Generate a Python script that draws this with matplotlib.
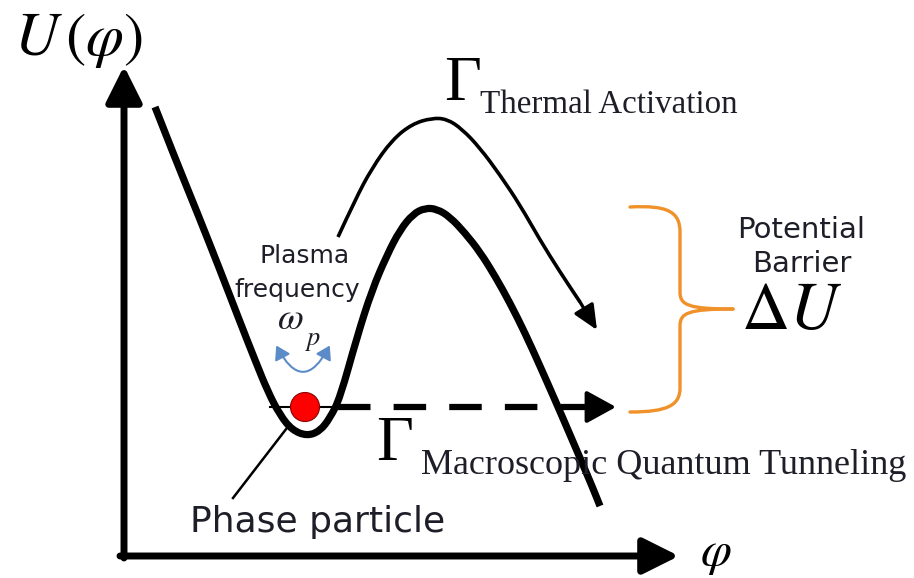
import matplotlib.pyplot as plt
from matplotlib.path import Path
from matplotlib.patches import PathPatch, FancyArrowPatch, Circle

plt.rcParams['mathtext.fontset'] = 'stix'

# traced shapes, in picture pixels (x right, y down)
pot_x = [155, 175, 197, 220, 240, 255, 268, 280, 292, 307, 320, 330, 340, 357, 372,
         387, 400, 413, 425, 437, 450, 465, 480, 495, 510, 525, 540, 555, 568, 580, 592, 600]
pot_y = [107, 158, 212, 270, 322, 360, 392, 415, 430, 436, 431, 418, 398, 337, 290,
         255, 230, 214, 208, 209, 217, 233, 252, 276, 303, 333, 366, 400, 430, 458, 486, 506]

thermal_x = [338, 355, 372, 392, 412, 432, 447, 462, 480, 500, 520, 540, 560, 580, 597]
thermal_y = [237, 200, 168, 140, 124, 118, 119, 129, 148, 175, 205, 240, 272, 302, 330]

tunnel_y = 407
tunnel_x = [338, 598]
tunnel_tip = 616

level_x = [270, 336]
particle = (305, 407)

brace_top = [(630, 207), (668, 205), (680, 212), (680, 232), (680, 292),
             (680, 305), (688, 309), (733, 309)]
brace_bot = [(733, 309), (688, 309), (680, 313), (680, 326), (680, 388),
             (680, 405), (668, 412), (630, 412)]

txt_dark = '#1e1e28'


def smooth_path(xs, ys):
    pts = list(zip(xs, ys))
    verts = [pts[0]]
    codes = [Path.MOVETO]
    for i in range(1, len(pts) - 1):
        mid = ((pts[i][0] + pts[i + 1][0]) / 2, (pts[i][1] + pts[i + 1][1]) / 2)
        verts += [pts[i], mid]
        codes += [Path.CURVE3, Path.CURVE3]
    verts.append(pts[-1])
    codes.append(Path.LINETO)
    return Path(verts, codes)


fig = plt.figure(figsize=(9.14, 5.78), dpi=100)
ax = fig.add_axes([0, 0, 1, 1])
ax.set_xlim(0, 914)
ax.set_ylim(578, 0)
ax.axis('off')

# axes with arrows
ax.annotate('', xy=(124, 66), xytext=(124, 558),
            arrowprops=dict(arrowstyle='-|>,head_length=1.1,head_width=0.55',
                            mutation_scale=20, lw=5, color='k', shrinkA=0, shrinkB=0))
ax.annotate('', xy=(679, 556), xytext=(120, 556),
            arrowprops=dict(arrowstyle='-|>,head_length=1.1,head_width=0.55',
                            mutation_scale=20, lw=5, color='k', shrinkA=0, shrinkB=0))

# potential
ax.add_patch(PathPatch(smooth_path(pot_x, pot_y), facecolor='none', edgecolor='k',
                       lw=5.2, capstyle='butt', joinstyle='round'))

# thermal activation path
ax.add_patch(PathPatch(smooth_path(thermal_x[:-1], thermal_y[:-1]), facecolor='none',
                       edgecolor='k', lw=2.6, joinstyle='round'))
ax.annotate('', xy=(thermal_x[-1], thermal_y[-1]), xytext=(thermal_x[-2], thermal_y[-2]),
            arrowprops=dict(arrowstyle='-|>,head_length=1.0,head_width=0.45',
                            mutation_scale=15, lw=2.4, color='k', shrinkA=0, shrinkB=0))

# tunneling dashed arrow
ax.plot(tunnel_x, [tunnel_y, tunnel_y], color='k', lw=4.5,
        linestyle=(0, (5.2, 3.7)), dash_capstyle='butt')
ax.annotate('', xy=(tunnel_tip, tunnel_y), xytext=(tunnel_x[1] - 4, tunnel_y),
            arrowprops=dict(arrowstyle='-|>,head_length=1.0,head_width=0.55',
                            mutation_scale=18, lw=3, color='k', shrinkA=0, shrinkB=0))

# energy level and particle
ax.plot(level_x, [tunnel_y, tunnel_y], color='k', lw=1.5)
ax.add_patch(Circle(particle, 14.5, facecolor='#ff0000', edgecolor='#8a0000', lw=0.8, zorder=5))

# plasma oscillation arrow
ax.add_patch(FancyArrowPatch((275, 343), (331, 343), connectionstyle='arc3,rad=1.0',
                             arrowstyle='<|-|>,head_length=8,head_width=5',
                             color='#5b8cc8', lw=1.5, zorder=4))

# pointer to particle
ax.plot([233, 290], [498, 424], color='k', lw=1.8)

# brace
codes = [Path.MOVETO, Path.CURVE4, Path.CURVE4, Path.CURVE4, Path.LINETO,
         Path.CURVE4, Path.CURVE4, Path.CURVE4]
for pts in (brace_top, brace_bot):
    ax.add_patch(PathPatch(Path(pts, codes), facecolor='none', edgecolor='#f0912a',
                           lw=2.4, capstyle='round'))

# labels
ax.text(14, 55, r'$U\,(\varphi)$', fontsize=44, va='baseline', ha='left', color='k')
ax.text(700, 565, r'$\varphi$', fontsize=36, va='baseline', ha='left', color='k')

ax.text(444, 100, 'Γ', fontsize=46, family='Liberation Serif', va='baseline', color='k')
ax.text(480, 113, 'Thermal Activation', fontsize=23.8, family='Liberation Serif',
        va='baseline', color=txt_dark)
ax.text(376, 460, 'Γ', fontsize=46, family='Liberation Serif', va='baseline', color='k')
ax.text(421, 474, 'Macroscopic Quantum Tunneling', fontsize=26, family='Liberation Serif',
        va='baseline', color=txt_dark)

ax.text(305, 256, 'Plasma', fontsize=18, ha='center', va='center', color=txt_dark)
ax.text(297, 290, 'frequency', fontsize=18, ha='center', va='center', color=txt_dark)
ax.text(277, 329, r'$\omega$', fontsize=27, ha='left', va='baseline', color=txt_dark)
ax.text(305, 345, r'$p$', fontsize=19, ha='left', va='baseline', color=txt_dark)

ax.text(801, 230, 'Potential', fontsize=21, ha='center', va='center', color=txt_dark)
ax.text(802, 264, 'Barrier', fontsize=21, ha='center', va='center', color=txt_dark)
ax.text(741, 329, r'$\Delta U$', fontsize=48, ha='left', va='baseline', color='k')

ax.text(190, 532, 'Phase particle', fontsize=26, ha='left', va='baseline', color=txt_dark)

fig.savefig('out.png', dpi=100)
